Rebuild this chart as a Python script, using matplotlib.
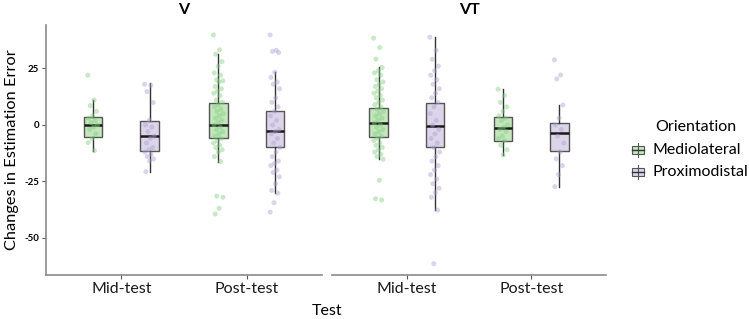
import matplotlib
matplotlib.use("Agg")
import matplotlib.pyplot as plt
from matplotlib.patches import Rectangle
from matplotlib.lines import Line2D
import numpy as np

plt.rcParams['font.family'] = ['Lato', 'DejaVu Sans']

panels = ["V", "VT"]
tests = ["Mid-test", "Post-test"]
orientations = ["Mediolateral", "Proximodistal"]

# box statistics: q1, median, q3, whisker low, whisker high
box_v_mid_ml = [-5.2, 0.0, 3.4, -11.4, 10.8]
box_v_mid_pd = [-11.4, -4.7, 1.8, -20.7, 18.4]
box_v_post_ml = [-5.6, -0.1, 9.6, -16.2, 31.3]
box_v_post_pd = [-9.6, -2.7, 6.3, -30.2, 23.3]
box_vt_mid_ml = [-5.2, 0.9, 7.7, -15.2, 25.4]
box_vt_mid_pd = [-9.7, -0.4, 9.9, -37.7, 38.8]
box_vt_post_ml = [-7.1, -1.3, 3.5, -13.3, 15.8]
box_vt_post_pd = [-11.4, -3.7, 1.0, -27.3, 8.8]

# individual observations
pts_v_mid_ml = [22, 11, 8.5, 6, 4, 3, 2, 1, 0, -1, -2, -4, -6, -7.8, -11.4]
pts_v_mid_pd = [18, 17.5, 14.7, 9.9, 2, 0, -1, -3, -5, -6, -8, -10, -11, -12, -13, -14, -15, -16, -20.7]
pts_v_post_ml = [39.8, 33.2, 31.3, 28, 26, 23, 22, 20, 19.5, 19, 17, 16, 15, 14, 13, 11, 10, 9, 8, 7,
                 6, 5, 4, 3, 2, 1, 0, -1, -2, -3, -4, -5, -6, -7, -8, -9, -10, -11, -12, -14, -16.2,
                 -31.5, -32, -36.9, -39.4]
pts_v_post_pd = [39.8, 33, 32.5, 32, 23.3, 21, 19, 18, 16, 12, 10, 8, 6, 4, 2, 0, -2, -3, -4, -6,
                 -8, -10, -12, -14, -16, -17, -18, -20, -21, -23, -26, -29, -30.2, -34.4, -38.6]
pts_vt_mid_ml = [38.4, 34.2, 29.1, 25.4, 24, 23, 22, 20, 19, 18, 17, 16, 15, 14, 13, 12, 11, 10, 9, 8,
                 7, 6, 5, 4, 3, 2, 1, 0, -1, -2, -3, -4, -5, -6, -7, -8, -9, -10, -11, -12, -13, -14,
                 -15.2, -24.5, -32.7, -33.2]
pts_vt_mid_pd = [38.8, 33, 29, 26, 24, 22, 20, 18, 16, 14, 12, 10, 8, 5, 2, 0, -2, -4, -6, -8,
                 -10, -12, -14, -16, -18, -20, -22, -24, -26, -28, -30, -32, -37.7, -61.4]
pts_vt_post_ml = [15.8, 13, 10, 8, 6, 4, 3, 2, 0, -1, -2, -3, -5, -6, -7, -9, -11, -13.3]
pts_vt_post_pd = [28.8, 22.1, 20.4, 8.8, 3, 0, -2, -5, -8, -12, -15, -18, -22, -27.3]

boxes = {
    ("V", 0, 0): box_v_mid_ml, ("V", 0, 1): box_v_mid_pd,
    ("V", 1, 0): box_v_post_ml, ("V", 1, 1): box_v_post_pd,
    ("VT", 0, 0): box_vt_mid_ml, ("VT", 0, 1): box_vt_mid_pd,
    ("VT", 1, 0): box_vt_post_ml, ("VT", 1, 1): box_vt_post_pd,
}
points = {
    ("V", 0, 0): pts_v_mid_ml, ("V", 0, 1): pts_v_mid_pd,
    ("V", 1, 0): pts_v_post_ml, ("V", 1, 1): pts_v_post_pd,
    ("VT", 0, 0): pts_vt_mid_ml, ("VT", 0, 1): pts_vt_mid_pd,
    ("VT", 1, 0): pts_vt_post_ml, ("VT", 1, 1): pts_vt_post_pd,
}

box_fill = ["#c3e6bd", "#dcd5ea"]
pt_col = ["#84cf80", "#ada2d2"]
edge = "#555555"

W, H = 749, 319
fig = plt.figure(figsize=(W / 100, H / 100), dpi=100)

def px_axes(x0, x1, y0, y1):
    return fig.add_axes([x0 / W, 1 - y1 / H, (x1 - x0) / W, (y1 - y0) / H])

ax_list = [px_axes(46, 322, 25, 275), px_axes(332, 606, 25, 275)]
offset = 0.226
bw = 0.15

for pi, (ax, panel) in enumerate(zip(ax_list, panels)):
    for ti in range(2):
        for oi in range(2):
            q1, med, q3, lo, hi = boxes[(panel, ti, oi)]
            xc = ti + 1 + (offset if oi == 1 else -offset)
            stats = [dict(med=med, q1=q1, q3=q3, whislo=lo, whishi=hi, fliers=[])]
            ax.bxp(stats, positions=[xc], widths=bw, showcaps=False, showfliers=False,
                   patch_artist=True,
                   boxprops=dict(facecolor=box_fill[oi], edgecolor=edge, linewidth=1.0),
                   whiskerprops=dict(color="#333333", linewidth=1.0),
                   medianprops=dict(color="#1a1a1a", linewidth=1.8))
            vals = points[(panel, ti, oi)]
            n = len(vals)
            jit = np.array([((k * 0.618034) % 1.0) - 0.5 for k in range(n)]) * 0.08
            ax.scatter(xc + jit, vals, s=13, color=pt_col[oi], alpha=0.45,
                       edgecolors="none", zorder=3)
    ax.set_xlim(0.4, 2.6)
    ax.set_ylim(-66.4, 44.2)
    ax.set_xticks([1, 2])
    ax.set_xticklabels(tests, fontsize=11.5, color="#1a1a1a")
    ax.tick_params(axis="x", length=3, color="#555555", pad=2)
    for s in ["top", "right"]:
        ax.spines[s].set_visible(False)
    ax.spines["bottom"].set_color("#8a8a8a")
    ax.spines["bottom"].set_linewidth(1.2)
    ax.set_title(panel, fontsize=11.5, fontweight="bold", pad=8)
    if pi == 0:
        ax.set_yticks([25, 0, -25, -50])
        ax.set_yticklabels(["25", "0", "-25", "-50"], fontsize=7, fontweight="bold")
        ax.tick_params(axis="y", length=3, color="#555555", pad=2)
        ax.spines["left"].set_color("#8a8a8a")
        ax.spines["left"].set_linewidth(1.2)
    else:
        ax.set_yticks([])
        ax.spines["left"].set_visible(False)

fig.text(12 / W, 1 - 150 / H, "Changes in Estimation Error", fontsize=11.8, rotation=90,
         ha="center", va="center")
fig.text(327 / W, 1 - 311 / H, "Test", fontsize=11.5, ha="center", va="center")

# legend
fig.text(655 / W, 1 - 127 / H, "Orientation", fontsize=11.5, ha="left", va="center")
leg_ax = fig.add_axes([0, 0, 1, 1], facecolor="none")
leg_ax.set_xlim(0, W)
leg_ax.set_ylim(H, 0)
leg_ax.axis("off")
for oi, (name, yc) in enumerate(zip(orientations, [150, 172])):
    leg_ax.add_line(Line2D([638, 638], [yc - 7, yc + 7], color="#555555", lw=0.8))
    leg_ax.add_patch(Rectangle((632, yc - 4), 12, 8, facecolor=box_fill[oi],
                               edgecolor="#555555", lw=0.8))
    leg_ax.add_line(Line2D([632, 644], [yc, yc], color="#333333", lw=1.0))
    leg_ax.text(653, yc, name, fontsize=11.5, ha="left", va="center")

fig.savefig("out.png", dpi=100)
